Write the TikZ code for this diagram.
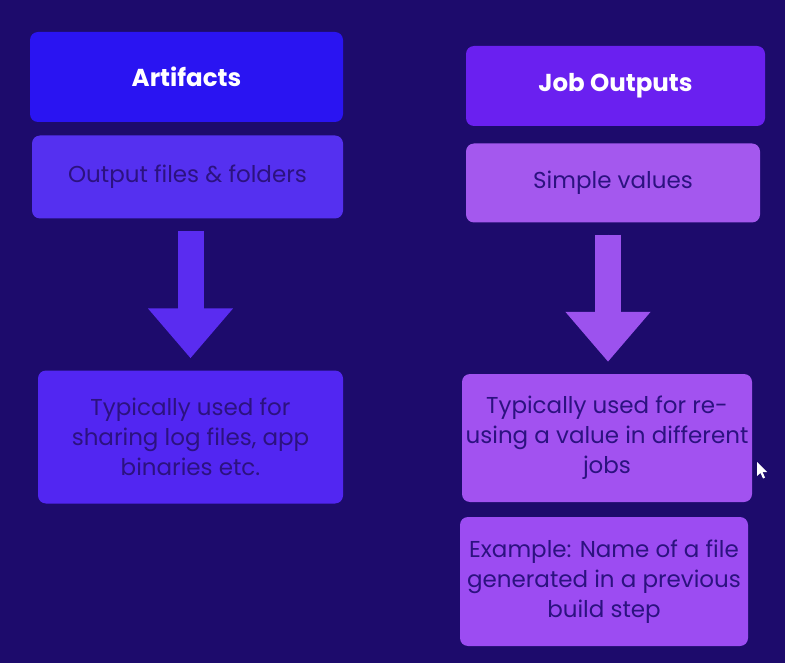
\documentclass[tikz,border=0pt]{standalone}
\usepackage{fontspec}
\setmainfont{Poppins}
\usetikzlibrary{arrows.meta}
\definecolor{bgc}{HTML}{1D0B6C}
\definecolor{aone}{HTML}{2A14F2}
\definecolor{atwo}{HTML}{5530F0}
\definecolor{athree}{HTML}{5226F2}
\definecolor{bone}{HTML}{6A20F0}
\definecolor{btwo}{HTML}{A458EE}
\definecolor{bthree}{HTML}{A252F0}
\definecolor{bfour}{HTML}{9C4CF2}
\definecolor{arra}{HTML}{5A2CF0}
\definecolor{arrb}{HTML}{9C52EE}
\definecolor{txtd}{HTML}{2C1280}
\tikzset{
  card/.style={rounded corners=8pt, inner sep=0pt, align=center, text=txtd,
    font=\fontsize{23}{30}\selectfont},
  titlecard/.style={card, text=white, font=\fontsize{24.5}{30}\selectfont\bfseries},
  bigarrow/.style={line width=26pt, -{Triangle[width=82pt,length=50pt]}, shorten <=12pt, shorten >=12pt}
}
\begin{document}
\begin{tikzpicture}[x=1pt,y=-1pt]
\fill[bgc] (0,0) rectangle (785,663);
\useasboundingbox (0,0) rectangle (785,663);
\node[titlecard, fill=aone, minimum width=313pt, minimum height=90pt] (A1) at (186.5,77) {Artifacts};
\node[card, fill=atwo, minimum width=311pt, minimum height=83pt] (A2) at (187.5,177) {Output files \& folders};
\node[card, fill=athree, minimum width=305pt, minimum height=133pt] (A3) at (190.5,437) {Typically used for\\sharing log files, app\\binaries etc.};
\node[titlecard, fill=bone, minimum width=299pt, minimum height=80pt] (B1) at (615.5,86) {Job Outputs};
\node[card, fill=btwo, minimum width=294pt, minimum height=79pt] (B2) at (613,183) {Simple values};
\node[card, fill=bthree, minimum width=290pt, minimum height=128pt] (B3) at (607,438) {Typically used for re-\\using a value in different\\jobs};
\node[card, fill=bfour, minimum width=288pt, minimum height=129pt] (B4) at (604,581.5) {Example: Name of a file\\generated in a previous\\build step};
\coordinate (aS) at ([xshift=3pt]A2.south);
\coordinate (bS) at ([xshift=-5pt]B2.south);
\draw[bigarrow, draw=arra, fill=arra] (aS) -- (aS |- A3.north);
\draw[bigarrow, draw=arrb, fill=arrb] (bS) -- (bS |- B3.north);
\fill[white] (757,462) -- (757,476) -- (760.5,473) -- (763,478.5) -- (765,477.5) -- (762.5,472) -- (767,472) -- cycle;
\end{tikzpicture}
\end{document}
